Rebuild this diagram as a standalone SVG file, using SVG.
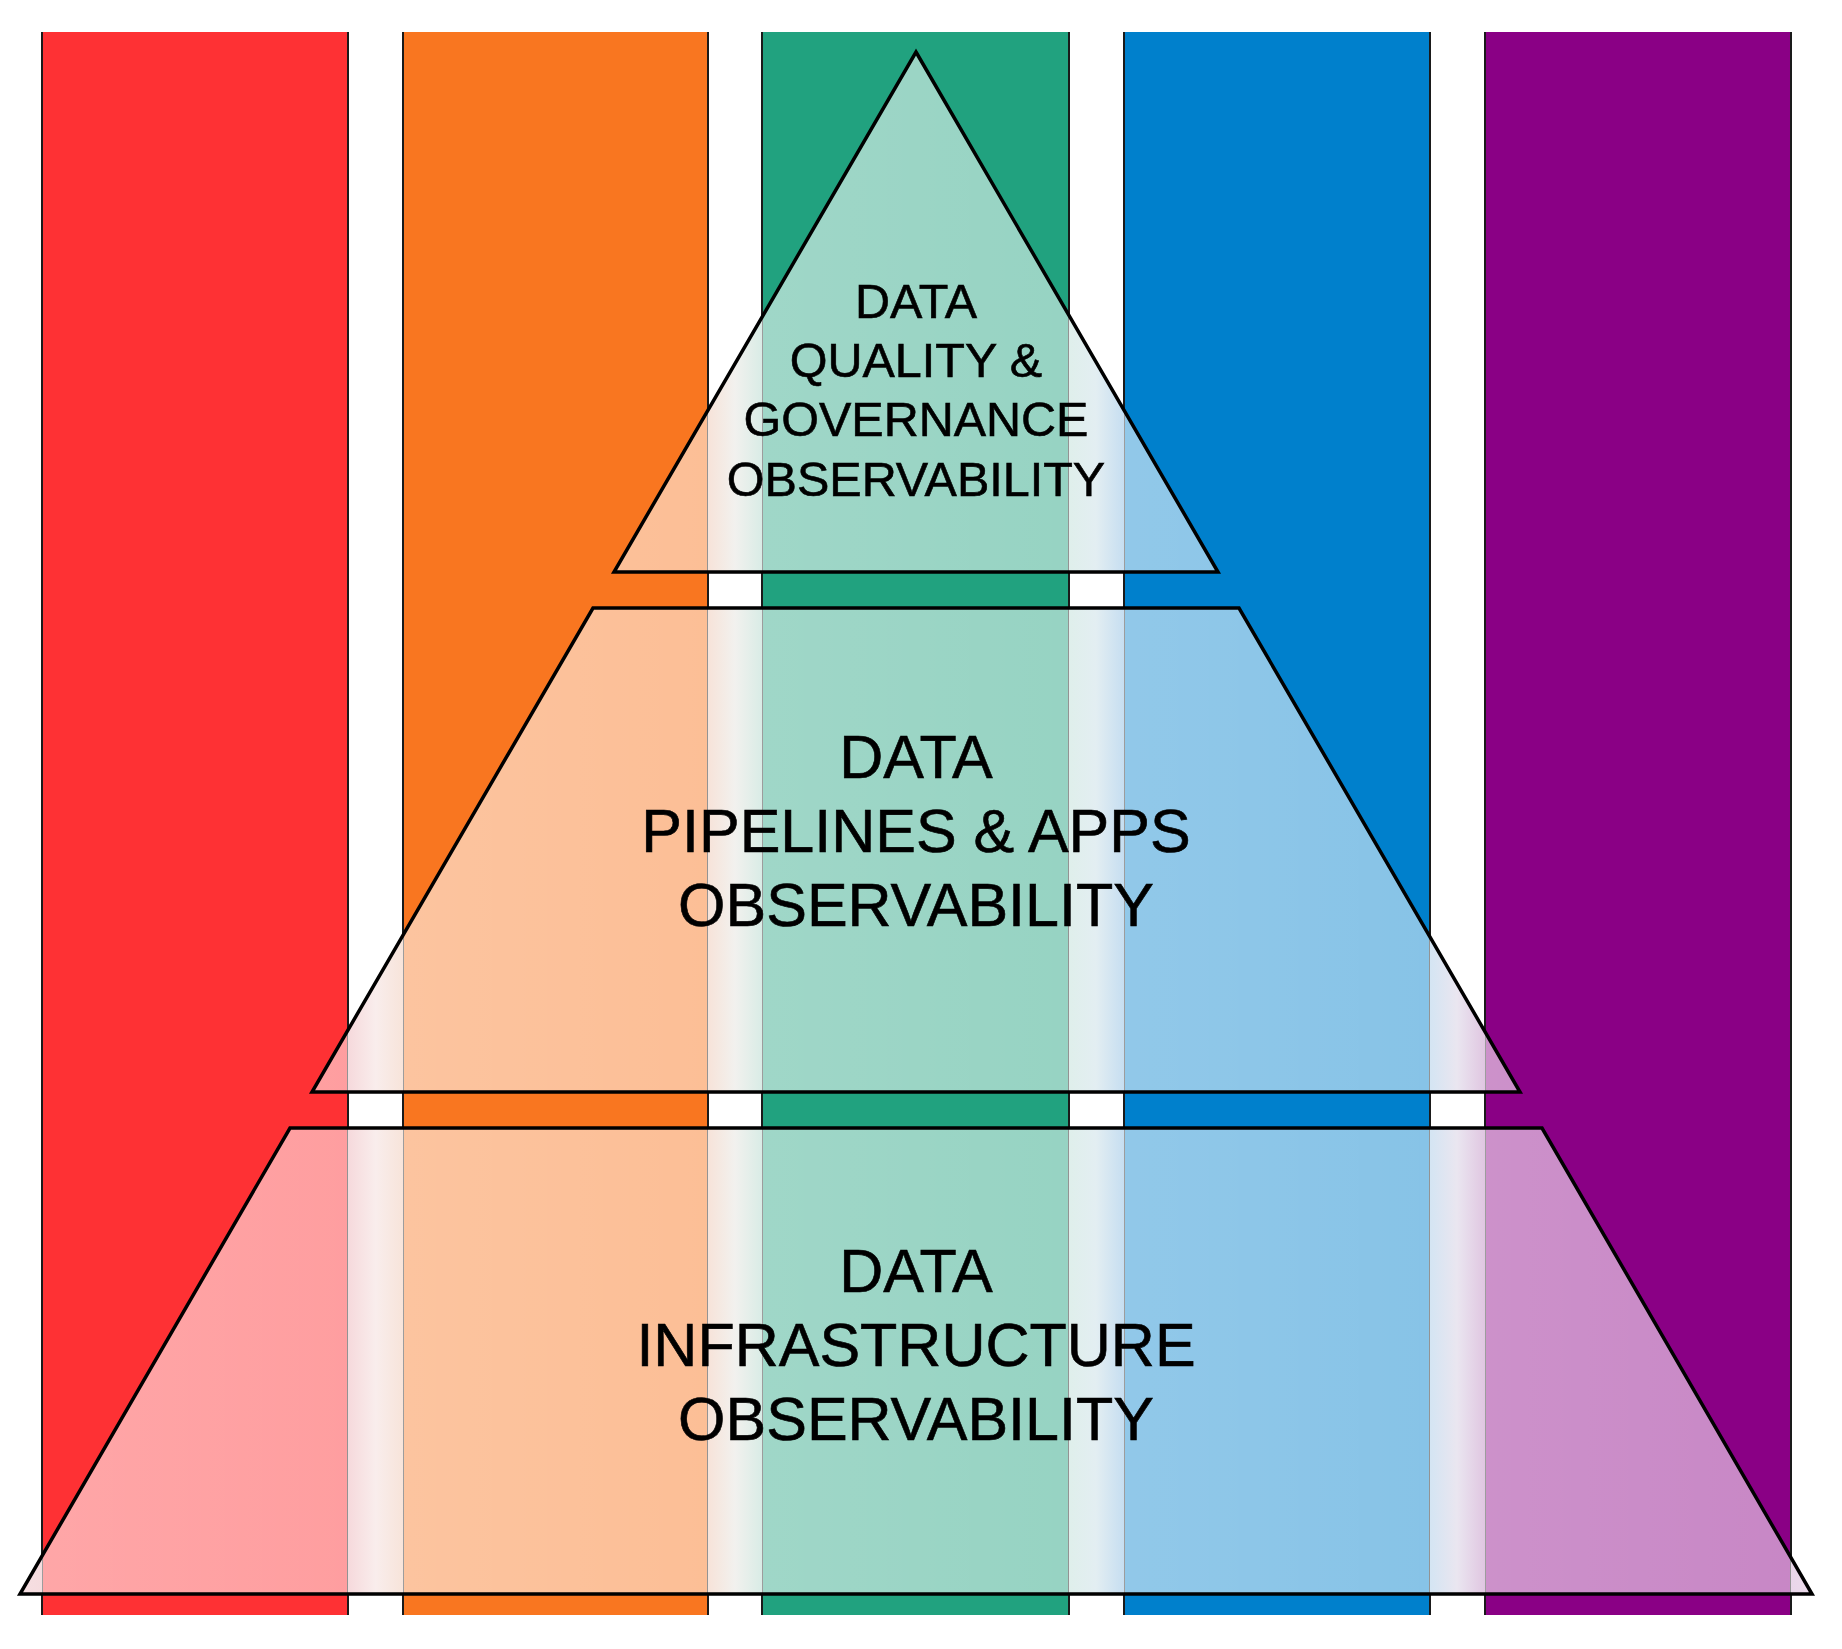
<svg xmlns="http://www.w3.org/2000/svg" width="1842" height="1649" viewBox="0 0 1842 1649">
  <style>
    .edge { stroke: #1a1a1a; stroke-width: 2; }
    .shape { fill: url(#tint); stroke: none; }
    .outline { fill: none; stroke: #000; stroke-width: 3.5; stroke-linejoin: miter; }
    .lbl { font-family: "Liberation Sans", Arial, Helvetica, sans-serif; fill: #000; text-anchor: middle; stroke: #000; stroke-width: 0.6; }
    .s48 { font-size: 48.5px; }
    .s60 { font-size: 61px; }
  </style>
  <defs>
    <linearGradient id="tint" gradientUnits="userSpaceOnUse" x1="0" y1="0" x2="1842" y2="0">
      <stop offset="0" stop-color="#F7E2E5"/>
      <stop offset="0.0228" stop-color="#F5DCDF"/>
      <stop offset="0.0228" stop-color="#fff" stop-opacity="0.57"/>
      <stop offset="0.1889" stop-color="#fff" stop-opacity="0.53"/>
      <stop offset="0.1889" stop-color="#F6D9DC"/>
      <stop offset="0.2040" stop-color="#F9EDEC"/>
      <stop offset="0.2188" stop-color="#F7E4DA"/>
      <stop offset="0.2188" stop-color="#fff" stop-opacity="0.57"/>
      <stop offset="0.3844" stop-color="#fff" stop-opacity="0.53"/>
      <stop offset="0.3844" stop-color="#F7E3D9"/>
      <stop offset="0.3990" stop-color="#F2F1EE"/>
      <stop offset="0.4137" stop-color="#D9ECE6"/>
      <stop offset="0.4137" stop-color="#fff" stop-opacity="0.57"/>
      <stop offset="0.5803" stop-color="#fff" stop-opacity="0.53"/>
      <stop offset="0.5803" stop-color="#DFEFEB"/>
      <stop offset="0.5950" stop-color="#E3EEF2"/>
      <stop offset="0.6102" stop-color="#C6DEF1"/>
      <stop offset="0.6102" stop-color="#fff" stop-opacity="0.57"/>
      <stop offset="0.7763" stop-color="#fff" stop-opacity="0.53"/>
      <stop offset="0.7763" stop-color="#D4E5F3"/>
      <stop offset="0.7910" stop-color="#EAE6F0"/>
      <stop offset="0.8062" stop-color="#E0C6E1"/>
      <stop offset="0.8062" stop-color="#fff" stop-opacity="0.57"/>
      <stop offset="0.9723" stop-color="#fff" stop-opacity="0.53"/>
      <stop offset="0.9723" stop-color="#E9D6E9"/>
      <stop offset="1" stop-color="#F0E2F0"/>
    </linearGradient>
  </defs>

  <rect x="0" y="0" width="1842" height="1649" fill="#fff"/>

  <g id="columns">
    <g id="col-red">
      <rect x="42" y="32" width="306" height="1583" fill="#FE3134"/>
      <line class="edge" x1="42" y1="32" x2="42" y2="1615"/>
      <line class="edge" x1="348" y1="32" x2="348" y2="1615"/>
    </g>
    <g id="col-orange">
      <rect x="403" y="32" width="305" height="1583" fill="#F97620"/>
      <line class="edge" x1="403" y1="32" x2="403" y2="1615"/>
      <line class="edge" x1="708" y1="32" x2="708" y2="1615"/>
    </g>
    <g id="col-green">
      <rect x="762" y="32" width="307" height="1583" fill="#21A27F"/>
      <line class="edge" x1="762" y1="32" x2="762" y2="1615"/>
      <line class="edge" x1="1069" y1="32" x2="1069" y2="1615"/>
    </g>
    <g id="col-blue">
      <rect x="1124" y="32" width="306" height="1583" fill="#0080CC"/>
      <line class="edge" x1="1124" y1="32" x2="1124" y2="1615"/>
      <line class="edge" x1="1430" y1="32" x2="1430" y2="1615"/>
    </g>
    <g id="col-purple">
      <rect x="1485" y="32" width="306" height="1583" fill="#8A0085"/>
      <line class="edge" x1="1485" y1="32" x2="1485" y2="1615"/>
      <line class="edge" x1="1791" y1="32" x2="1791" y2="1615"/>
    </g>
  </g>

  <g id="connectors"></g>

  <g id="node-quality">
    <polygon class="shape" points="916,52 1218,572 614,572"/>
    <polygon class="outline" points="916,52 1218,572 614,572"/>
    <text class="lbl s48" x="916" y="318">DATA</text>
    <text class="lbl s48" x="916" y="377">QUALITY &amp;</text>
    <text class="lbl s48" x="916" y="436">GOVERNANCE</text>
    <text class="lbl s48" x="916" y="496">OBSERVABILITY</text>
  </g>

  <g id="node-pipelines">
    <polygon class="shape" points="593,608 1239,608 1520,1092 312,1092"/>
    <polygon class="outline" points="593,608 1239,608 1520,1092 312,1092"/>
    <text class="lbl s60" x="916" y="778">DATA</text>
    <text class="lbl s60" x="916" y="852">PIPELINES &amp; APPS</text>
    <text class="lbl s60" x="916" y="926">OBSERVABILITY</text>
  </g>

  <g id="node-infrastructure">
    <polygon class="shape" points="290,1128 1542,1128 1812,1594 20,1594"/>
    <polygon class="outline" points="290,1128 1542,1128 1812,1594 20,1594"/>
    <text class="lbl s60" x="916" y="1292">DATA</text>
    <text class="lbl s60" x="916" y="1366">INFRASTRUCTURE</text>
    <text class="lbl s60" x="916" y="1440">OBSERVABILITY</text>
  </g>
</svg>
